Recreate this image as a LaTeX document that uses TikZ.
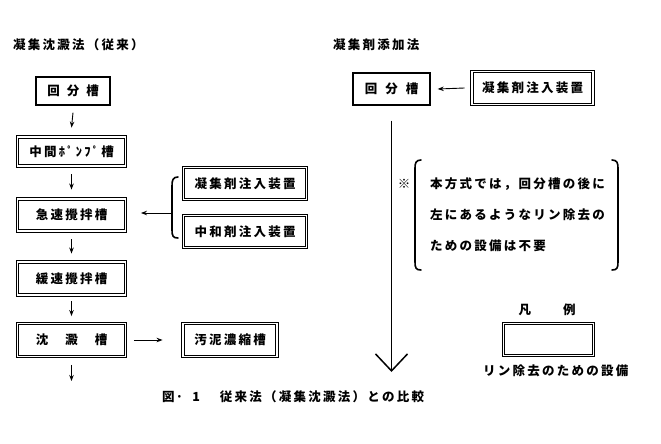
\documentclass[tikz,border=0pt]{standalone}
\usepackage{fontspec}
\setmainfont{Noto Sans CJK JP}[LetterSpace=18]
\usetikzlibrary{arrows.meta}
\tikzset{
  fs/.style={font=\fontsize{12.5pt}{15pt}\selectfont\bfseries},
  dbox/.style={draw, line width=0.9pt, double, double distance=1.5pt, inner sep=0pt, fs},
  sbox/.style={draw, line width=1.4pt, inner sep=0pt, fs},
  arr/.style={-{Stealth[length=6pt,width=4.5pt]}, line width=0.9pt},
  brk/.style={line width=1.6pt, line cap=round},
  lbl/.style={inner sep=0pt, fs},
}
\begin{document}
\begin{tikzpicture}[x=1pt, y=-1pt]
\useasboundingbox (0,0) rectangle (661,444);
% titles
\node[lbl, anchor=west] (t1) at (13,45) {凝集沈澱法（従来）};
\node[lbl, anchor=west] (t2) at (333,45) {凝集剤添加法};
% left column
\node[sbox, minimum width=74pt, minimum height=28pt] (A) at (73,91) {回\hspace{7pt}分\hspace{7pt}槽};
\node[dbox, minimum width=108pt, minimum height=29pt] (B) at (71.5,151.5) {中間ﾎﾟﾝﾌﾟ槽};
\node[dbox, minimum width=108pt, minimum height=32pt] (C) at (71.5,215) {急速攪拌槽};
\node[dbox, minimum width=108pt, minimum height=33pt] (D) at (71.5,278.5) {緩速攪拌槽};
\node[dbox, minimum width=108pt, minimum height=33pt] (E) at (71.5,340) {沈\hspace{17pt}澱\hspace{17pt}槽};
\node[dbox, minimum width=94pt, minimum height=33pt] (F) at (230,340) {汚泥濃縮槽};
\node[dbox, minimum width=123pt, minimum height=32pt] (G) at (245,183.5) {凝集剤注入装置};
\node[dbox, minimum width=123pt, minimum height=32pt] (H) at (245,231.5) {中和剤注入装置};
\coordinate (Eout) at (71.5,381);
\draw[arr] ([yshift=-7pt]A.south) -- ([yshift=9pt]B.north);
\draw[arr] ([yshift=-8pt]B.south) -- ([yshift=9pt]C.north);
\draw[arr] ([yshift=-8pt]C.south) -- ([yshift=8pt]D.north);
\draw[arr] ([yshift=-6pt]D.south) -- ([yshift=7pt]E.north);
\draw[arr] ([yshift=-8pt]E.south) -- (Eout);
\draw[arr] ([xshift=8pt]E.east) -- ([xshift=-20pt]F.west);
% bracket for injectors
\draw[brk] (178,177) .. controls (173,177) and (172,180) .. (172,186) -- (172,230) .. controls (172,236) and (173,238) .. (178,238);
\coordinate (bk) at (171,213);
\draw[arr] (bk) -- ([xshift=15pt]C.east |- bk);
% right column
\node[sbox, minimum width=77pt, minimum height=32pt] (I) at (391.5,89) {回\hspace{8pt}分\hspace{8pt}槽};
\node[dbox, minimum width=121pt, minimum height=33pt] (J) at (532.5,88) {凝集剤注入装置};
\draw[arr] ([xshift=-7pt]J.west) -- ([xshift=7pt]I.east);
\coordinate (bigend) at (391.5,372);
\draw[line width=1.5pt, -{Straight Barb[length=17pt,width=32pt,line width=1.5pt]}] ([yshift=-15pt]I.south) -- (bigend);
% note
\node[lbl] (star) at (404,184) {※};
\draw[brk] (421,160) .. controls (416,160) and (415,163) .. (415,168) -- (415,262) .. controls (415,268) and (416,270) .. (421,270);
\draw[brk] (612,160) .. controls (617,160) and (618,163) .. (618,168) -- (618,262) .. controls (618,268) and (617,270) .. (612,270);
\node[lbl, anchor=west] (n1) at (430,184) {本方式では，回分槽の後に};
\node[lbl, anchor=west] (n2) at (430,215) {左にあるようなリン除去の};
\node[lbl, anchor=west] (n3) at (430,246) {ための設備は不要};
% legend
\node[lbl] (lg) at (547,310) {凡\hspace{32pt}例};
\node[dbox, minimum width=90pt, minimum height=32pt] (K) at (548.5,339.5) {};
\node[lbl, anchor=west] (lgt) at (483,371) {リン除去のための設備};
% caption
\node[lbl, anchor=west] (cap) at (162,397) {図\hspace{1pt}·\hspace{9pt}1\hspace{20pt}従来法（凝集沈澱法）との比較};
\end{tikzpicture}
\end{document}
